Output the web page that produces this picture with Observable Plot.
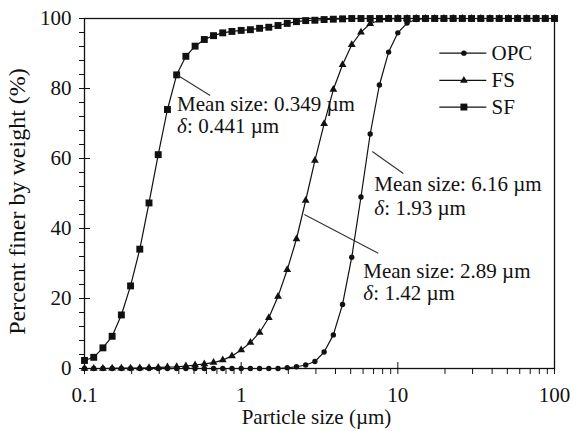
<!DOCTYPE html>
<html><head><meta charset="utf-8">
<script src="https://cdn.jsdelivr.net/npm/d3@7"></script>
<script src="https://cdn.jsdelivr.net/npm/@observablehq/plot@0.6"></script>
<style>body{margin:0;background:#fff} #chart svg{display:block}</style>
</head><body><div id="chart"></div>
<script>
// Particle size bins (µm)
const sizes = [0.1000,0.1145,0.1311,0.1501,0.1719,0.1968,0.2254,0.2581,0.2955,0.3384,0.3875,0.4437,0.5080,0.5817,0.6661,0.7627,0.8733,
  1.000,1.145,1.311,1.501,1.719,1.968,2.254,2.581,2.955,3.384,3.875,4.437,5.080,5.817,6.661,7.627,8.733,
  10.00,11.45,13.11,15.01,17.19,19.68,22.54,25.81,29.55,33.84,38.75,44.37,50.80,58.17,66.61,76.27,87.33,100.0];
// Cumulative percent finer by weight
const opc = [0,0,0,0,0,0,0,0,0,0,0,0,0,0,0,0,0,0,0,0,0,0,
  0.2,0.5,1.0,2.0,4.7,9.6,18.3,31.8,49.0,67.0,81.0,90.4,95.9,98.7,99.7,
  100,100,100,100,100,100,100,100,100,100,100,100,100,100,100];
const fs = [0,0,0,0.05,0.1,0.1,0.15,0.2,0.3,0.4,0.5,0.7,1.0,1.3,1.7,2.4,3.6,5.3,7.4,10.3,14.5,20.6,28.2,37.0,48.0,59.4,69.9,79.7,86.8,92.5,96.1,98.5,99.5,99.9,
  100,100,100,100,100,100,100,100,100,100,100,100,100,100,100,100,100,100];
const sf = [2.3,3.2,5.9,9.2,15.3,23.6,34.1,47.3,61.1,74.0,83.9,89.2,92.1,94.0,95.1,95.9,96.3,96.6,96.8,97.2,97.5,98.0,98.6,99.1,99.4,99.5,99.7,99.8,99.9,
  100,100,100,100,100,100,100,100,100,100,100,100,100,100,100,100,100,100,100,100,100,100,100];

const seriesNames = ["OPC","FS","SF"];
const seriesValues = [opc, fs, sf];
const seriesSymbols = ["circle","triangle","square"];
const seriesR = [2.7, 2.9, 3.9];

const xMajorTicks = [0.1,1,10,100];
const xMinorTicks = [0.2,0.3,0.4,0.5,0.6,0.7,0.8,0.9,2,3,4,5,6,7,8,9,20,30,40,50,60,70,80,90];
const yMajorTicks = [0,20,40,60,80,100];
const yMinorTicks = [4,8,12,16,24,28,32,36,44,48,52,56,64,68,72,76,84,88,92,96];

// Annotations (data coordinates)
const annotTitle = ["Mean size: 0.349 µm","Mean size: 6.16 µm","Mean size: 2.89 µm"];
const annotDelta = [": 0.441 µm",": 1.93 µm",": 1.42 µm"];
const annotX = [0.39, 7.08, 6.02];
const annotY1 = [75.4, 52.6, 27.7];
const annotY2 = [69.1, 45.7, 21.6];
const leaderX1 = [0.395, 6.87, 2.53];
const leaderY1 = [83.7, 62.0, 44.0];
const leaderX2 = [0.634, 10.84, 7.5];
const leaderY2 = [78.0, 55.7, 32.9];

// Legend placement (data coordinates)
const legendY = [90.1, 82.3, 74.7];
const legendX1 = 18.4, legendX2 = 36.7, legendMarkX = 26.4, legendTextX = 39.6;

const rows = sizes.flatMap((s, i) => seriesNames.map((name, k) => ({size: s, pct: seriesValues[k][i], series: name})));
const legendRows = seriesNames.map((name, k) => ({name, y: legendY[k], symbol: seriesSymbols[k], r: seriesR[k]}));
const annots = annotTitle.map((t, i) => ({t, d: annotDelta[i], x: annotX[i], y1: annotY1[i], y2: annotY2[i],
  lx1: leaderX1[i], ly1: leaderY1[i], lx2: leaderX2[i], ly2: leaderY2[i]}));

const ink = "#111";
const marks = [
  Plot.frame({stroke: ink, strokeWidth: 1.3}),
  Plot.axisX({ticks: xMajorTicks, tickSize: 0, tickPadding: 19, tickFormat: d => String(d), label: null}),
  Plot.axisX({ticks: xMajorTicks, tickSize: 12, dy: -6, text: null, label: null, stroke: ink}),
  Plot.axisX({ticks: xMinorTicks, tickSize: 6, text: null, label: null, stroke: ink}),
  Plot.axisY({ticks: yMajorTicks, tickSize: 0, tickPadding: 13, label: null}),
  Plot.axisY({ticks: yMajorTicks, tickSize: 11, dx: 6, text: null, label: null, stroke: ink}),
  Plot.axisY({ticks: yMinorTicks, tickSize: 5, text: null, label: null, stroke: ink}),
  Plot.line(rows, {x: "size", y: "pct", z: "series", stroke: ink, strokeWidth: 1.2}),
];
seriesNames.forEach((name, k) => {
  marks.push(Plot.dot(rows.filter(d => d.series === name), {x: "size", y: "pct", symbol: seriesSymbols[k], r: seriesR[k], fill: ink, stroke: "none"}));
});
// legend
marks.push(
  Plot.link(legendRows, {x1: () => legendX1, x2: () => legendX2, y1: "y", y2: "y", stroke: ink, strokeWidth: 1.2}),
  Plot.text(legendRows, {x: () => legendTextX, y: "y", text: "name", textAnchor: "start", fill: ink})
);
legendRows.forEach(d => marks.push(Plot.dot([d], {x: () => legendMarkX, y: "y", symbol: d.symbol, r: d.r, fill: ink})));
// annotations
marks.push(
  Plot.link(annots, {x1: "lx1", y1: "ly1", x2: "lx2", y2: "ly2", stroke: "#333", strokeWidth: 1.1}),
  Plot.text(annots, {x: "x", y: "y1", text: "t", textAnchor: "start", fill: ink}),
  Plot.text(annots, {x: "x", y: "y2", text: () => "δ", textAnchor: "start", fontStyle: "italic", fill: ink}),
  Plot.text(annots, {x: "x", y: "y2", text: "d", textAnchor: "start", dx: 10, fill: ink}),
  Plot.text(["Particle size (µm)"], {frameAnchor: "bottom", lineAnchor: "middle", textAnchor: "middle", dy: 49, dx: -3, text: d => d, fill: ink}),
  Plot.text(["Percent finer by weight (%)"], {frameAnchor: "left", lineAnchor: "middle", textAnchor: "middle", dx: -67, dy: 8, rotate: -90, fontSize: 24, text: d => d, fill: ink})
);

const chart = Plot.plot({
  width: 573, height: 431,
  marginLeft: 84, marginRight: 19, marginTop: 18, marginBottom: 63,
  style: {fontFamily: "'Liberation Serif', 'Times New Roman', serif", fontSize: "21px", color: ink, background: "#fff"},
  x: {type: "log", domain: [0.1, 100], label: null},
  y: {domain: [0, 100], label: null},
  marks
});
document.getElementById("chart").appendChild(chart);
</script>
</body></html>
